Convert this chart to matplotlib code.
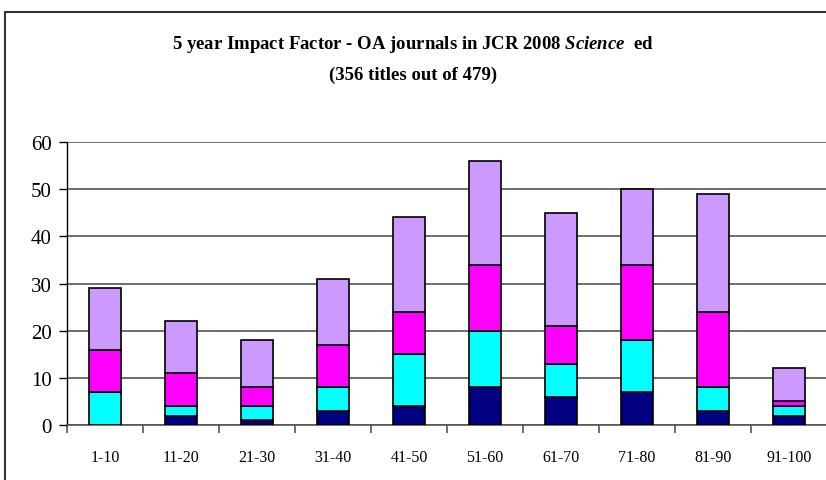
import numpy as np
import matplotlib.pyplot as plt
from matplotlib.patches import Rectangle

# ranges of impact factor percentiles
categories = ["1-10", "11-20", "21-30", "31-40", "41-50",
              "51-60", "61-70", "71-80", "81-90", "91-100"]
# stacked segments (bottom to top)
navy_vals = [0, 2, 1, 3, 4, 8, 6, 7, 3, 2]
cyan_vals = [7, 2, 3, 5, 11, 12, 7, 11, 5, 2]
magenta_vals = [9, 7, 4, 9, 9, 14, 8, 16, 16, 1]
lavender_vals = [13, 11, 10, 14, 20, 22, 24, 16, 25, 7]
y_ticks = [0, 10, 20, 30, 40, 50, 60]

series = [navy_vals, cyan_vals, magenta_vals, lavender_vals]
colors = ["#000080", "#00FFFF", "#FF00FF", "#CC99FF"]

plt.rcParams['font.family'] = ['Liberation Serif', 'DejaVu Serif']
plt.rcParams['mathtext.fontset'] = 'custom'
plt.rcParams['mathtext.it'] = 'Liberation Serif:italic:bold'
plt.rcParams['mathtext.rm'] = 'Liberation Serif:bold'

fig = plt.figure(figsize=(8.26, 4.81), dpi=100)
ax = fig.add_axes([67 / 826, 1 - 426 / 481, 760 / 826, 283 / 481])

x = np.arange(len(categories))
bottom = np.zeros(len(categories))
for vals, col in zip(series, colors):
    ax.bar(x, vals, bottom=bottom, width=0.41, color=col,
           edgecolor="black", linewidth=1.2, zorder=3)
    bottom += np.array(vals)

ax.set_xlim(-0.5, len(categories) - 0.5)
ax.set_ylim(0, 60)
ax.set_yticks(y_ticks)
ax.set_yticklabels([str(v) for v in y_ticks], fontsize=15)
ax.yaxis.grid(True, color="#555555", linewidth=1.2, zorder=0)

# category labels sit between boundary ticks
ax.set_xticks(np.arange(len(categories) + 1) - 0.5)
ax.set_xticklabels([])
ax.set_xticks(x, minor=True)
ax.set_xticklabels(categories, minor=True, fontsize=11.5)
ax.tick_params(axis="x", which="minor", length=0, pad=17)
ax.tick_params(axis="x", which="major", length=6, direction="out",
               color="#555555", width=1.2)
ax.tick_params(axis="y", length=6, direction="out", width=1, pad=5)

for s in ["top", "right"]:
    ax.spines[s].set_visible(False)
ax.spines["bottom"].set_color("#555555")
ax.spines["bottom"].set_linewidth(1.2)
ax.spines["left"].set_linewidth(1)

# chart border
fig.patches.append(Rectangle((5 / 826, -0.01), 1.0, 1 - 13 / 481 + 0.01,
                             transform=fig.transFigure, fill=False,
                             edgecolor="#333333", linewidth=1.5))

fig.text(0.5, 1 - 45 / 481,
         r"5 year Impact Factor - OA journals in JCR 2008 $\mathit{Science}$  ed",
         ha="center", va="center", fontsize=13.5, fontweight="bold")
fig.text(0.5, 1 - 75 / 481, "(356 titles out of 479)",
         ha="center", va="center", fontsize=13.5, fontweight="bold")

fig.savefig("out.png", dpi=100)
